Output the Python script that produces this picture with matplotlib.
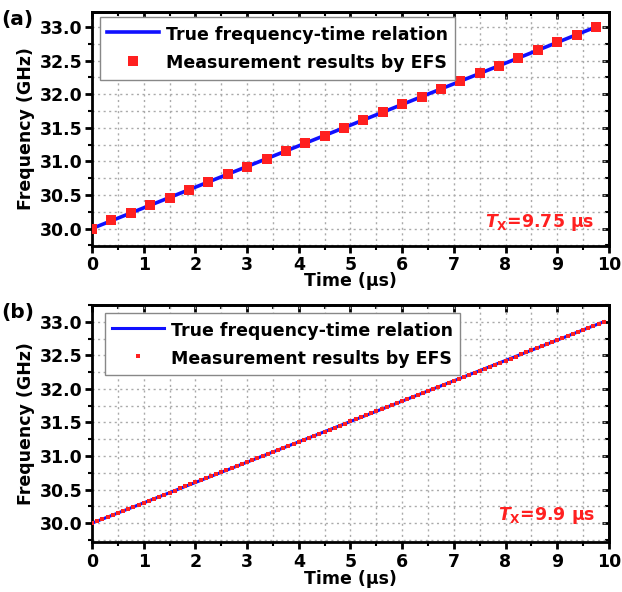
import matplotlib
matplotlib.use('Agg')
import matplotlib.pyplot as plt
from matplotlib.ticker import MultipleLocator, FormatStrFormatter

plt.rcParams['font.family'] = ['DejaVu Sans']
plt.rcParams['font.weight'] = 'bold'
plt.rcParams['axes.labelweight'] = 'bold'
plt.rcParams['mathtext.fontset'] = 'custom'
plt.rcParams['mathtext.it'] = 'DejaVu Sans:italic:bold'
plt.rcParams['mathtext.rm'] = 'DejaVu Sans:bold'
plt.rcParams['mathtext.bf'] = 'DejaVu Sans:bold'

# true frequency-time relation: endpoints (us, GHz)
true_a_t = [0.0, 9.75]
true_a_f = [30.0, 33.0]
true_b_t = [0.0, 9.9]
true_b_f = [30.0, 33.0]

# measurement results by EFS, panel (a)
meas_a_t = [0.0, 0.375, 0.75, 1.125, 1.5, 1.875, 2.25, 2.625, 3.0, 3.375,
            3.75, 4.125, 4.5, 4.875, 5.25, 5.625, 6.0, 6.375, 6.75, 7.125,
            7.5, 7.875, 8.25, 8.625, 9.0, 9.375, 9.75]
meas_a_f = [30.00, 30.12, 30.23, 30.35, 30.46, 30.58, 30.69, 30.81, 30.92, 31.04,
            31.15, 31.27, 31.38, 31.50, 31.62, 31.73, 31.85, 31.96, 32.08, 32.19,
            32.31, 32.42, 32.54, 32.65, 32.77, 32.88, 33.00]

# measurement results by EFS, panel (b)
meas_b_t = [0.0, 0.1, 0.2, 0.3, 0.4, 0.5, 0.6, 0.7, 0.8, 0.9,
            1.0, 1.1, 1.2, 1.3, 1.4, 1.5, 1.6, 1.7, 1.8, 1.9,
            2.0, 2.1, 2.2, 2.3, 2.4, 2.5, 2.6, 2.7, 2.8, 2.9,
            3.0, 3.1, 3.2, 3.3, 3.4, 3.5, 3.6, 3.7, 3.8, 3.9,
            4.0, 4.1, 4.2, 4.3, 4.4, 4.5, 4.6, 4.7, 4.8, 4.9,
            5.0, 5.1, 5.2, 5.3, 5.4, 5.5, 5.6, 5.7, 5.8, 5.9,
            6.0, 6.1, 6.2, 6.3, 6.4, 6.5, 6.6, 6.7, 6.8, 6.9,
            7.0, 7.1, 7.2, 7.3, 7.4, 7.5, 7.6, 7.7, 7.8, 7.9,
            8.0, 8.1, 8.2, 8.3, 8.4, 8.5, 8.6, 8.7, 8.8, 8.9,
            9.0, 9.1, 9.2, 9.3, 9.4, 9.5, 9.6, 9.7, 9.8, 9.9]
meas_b_f = [30.00, 30.03, 30.06, 30.09, 30.12, 30.15, 30.18, 30.21, 30.24, 30.27,
            30.30, 30.33, 30.36, 30.39, 30.42, 30.45, 30.48, 30.52, 30.55, 30.58,
            30.61, 30.64, 30.67, 30.70, 30.73, 30.76, 30.79, 30.82, 30.85, 30.88,
            30.91, 30.94, 30.97, 31.00, 31.03, 31.06, 31.09, 31.12, 31.15, 31.18,
            31.21, 31.24, 31.27, 31.30, 31.33, 31.36, 31.39, 31.42, 31.45, 31.48,
            31.52, 31.55, 31.58, 31.61, 31.64, 31.67, 31.70, 31.73, 31.76, 31.79,
            31.82, 31.85, 31.88, 31.91, 31.94, 31.97, 32.00, 32.03, 32.06, 32.09,
            32.12, 32.15, 32.18, 32.21, 32.24, 32.27, 32.30, 32.33, 32.36, 32.39,
            32.42, 32.45, 32.48, 32.52, 32.55, 32.58, 32.61, 32.64, 32.67, 32.70,
            32.73, 32.76, 32.79, 32.82, 32.85, 32.88, 32.91, 32.94, 32.97, 33.00]

# tag, data, marker size, line width, Tx label, axes rect, Tx y, legend anchor, ylim, xlabel pad, tick pad
panels = [
    ("(a)", true_a_t, true_a_f, meas_a_t, meas_a_f, 7.0, 2.6, r"$T_{\mathrm{X}}$=9.75 μs",
     [0.148, 0.5845, 0.831, 0.395], 0.10, (0.015, 0.978), (29.74, 33.22), -1, 2),
    ("(b)", true_b_t, true_b_f, meas_b_t, meas_b_f, 3.4, 2.2, r"$T_{\mathrm{X}}$=9.9 μs",
     [0.148, 0.0845, 0.831, 0.4003], 0.11, (0.025, 0.966), (29.72, 33.25), -1, 3),
]

fs = 12.5
fig = plt.figure(figsize=(6.22, 5.92), dpi=100)

for tag, tt, tf, mt, mf, ms, lw, tx, rect, ty, anchor, ylim, xpad, tpad in panels:
    ax = fig.add_axes(rect)
    ax.plot(tt, tf, color='#1010ff', lw=lw, label="True frequency-time relation", zorder=3)
    ax.plot(mt, mf, 's', color='#ff2020', ms=ms, mew=0, label="Measurement results by EFS", zorder=4)
    ax.set_xlim(0, 10)
    ax.set_ylim(*ylim)
    ax.xaxis.set_major_locator(MultipleLocator(1))
    ax.xaxis.set_minor_locator(MultipleLocator(0.5))
    ax.yaxis.set_major_locator(MultipleLocator(0.5))
    ax.yaxis.set_minor_locator(MultipleLocator(0.25))
    ax.grid(True, which='both', color='#aaaaaa', ls=(0, (1.5, 2.5)), lw=1.0)
    ax.set_axisbelow(True)
    for s in ax.spines.values():
        s.set_linewidth(2.0)
    ax.tick_params(which='major', direction='out', length=5, width=2, labelsize=fs)
    ax.tick_params(axis='x', which='major', pad=tpad)
    ax.tick_params(axis='y', which='major', pad=2)
    ax.tick_params(which='minor', direction='out', length=3, width=1.5)
    ax.yaxis.set_major_formatter(FormatStrFormatter('%.1f'))

    # mirrored ticks on top and right, pointing inward
    secx = ax.secondary_xaxis('top')
    secx.xaxis.set_major_locator(MultipleLocator(1))
    secx.xaxis.set_minor_locator(MultipleLocator(0.5))
    secx.tick_params(which='major', direction='in', length=5, width=2, labeltop=False)
    secx.tick_params(which='minor', direction='in', length=3, width=1.5)
    secx.spines['top'].set_linewidth(2.0)
    secy = ax.secondary_yaxis('right')
    secy.yaxis.set_major_locator(MultipleLocator(0.5))
    secy.yaxis.set_minor_locator(MultipleLocator(0.25))
    secy.tick_params(which='major', direction='in', length=5, width=2, labelright=False)
    secy.tick_params(which='minor', direction='in', length=3, width=1.5)
    secy.spines['right'].set_linewidth(2.0)

    ax.set_xlabel("Time (μs)", fontsize=fs, labelpad=xpad)
    ax.set_ylabel("Frequency (GHz)", fontsize=fs, labelpad=3)
    leg = ax.legend(loc='upper left', bbox_to_anchor=anchor, borderaxespad=0,
                    fontsize=fs, handlelength=3.0, handleheight=1.38, fancybox=False,
                    framealpha=1, edgecolor='#888888',
                    borderpad=0.4, labelspacing=0.5, handletextpad=0.4)
    leg.get_frame().set_linewidth(1.0)
    ax.text(0.973, ty, tx, transform=ax.transAxes, ha='right', va='center',
            color='#ff2020', fontsize=fs, fontweight='bold')
    fig.text(0.002, rect[1] + rect[3] - 0.012, tag, fontsize=fs + 2, fontweight='bold',
             va='center', ha='left')

fig.savefig("out.png", dpi=100)
